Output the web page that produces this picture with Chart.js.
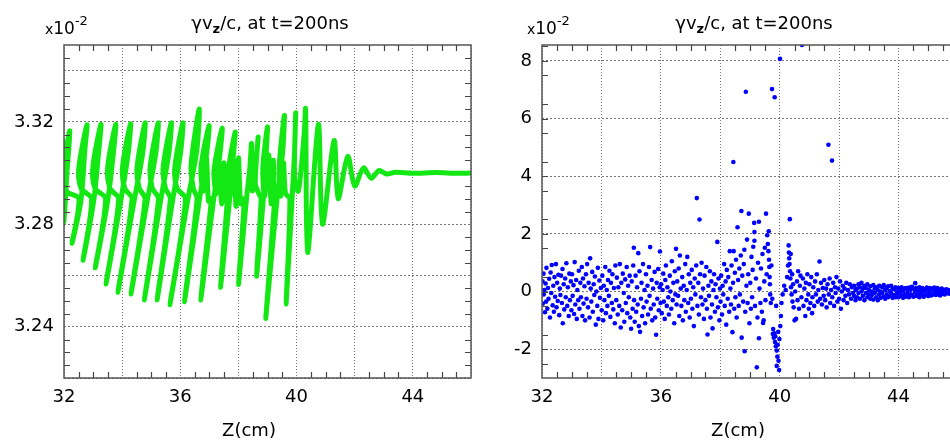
<!DOCTYPE html>
<html>
<head>
<meta charset="utf-8">
<script src="https://cdn.jsdelivr.net/npm/chart.js@4.4.0/dist/chart.umd.min.js"></script>
<style>
  html, body { margin: 0; padding: 0; background: #fff; overflow: hidden; }
  #wrap { position: relative; width: 950px; height: 441px; overflow: hidden; }
  #leftChart { position: absolute; left: 0; top: 0; }
  #rightChart { position: absolute; left: 480px; top: 0; }
</style>
</head>
<body>
<div id="wrap">
  <canvas id="leftChart" width="480" height="441"></canvas>
  <canvas id="rightChart" width="490" height="441"></canvas>
</div>
<script>
// ---- data ----
const xTickLabels = [32, 36, 40, 44];
const leftYTickLabels = [3.24, 3.28, 3.32];
const rightYTickLabels = [-2, 0, 2, 4, 6, 8];
const axisTitle = 'Z(cm)';
const multiplier = ['x', '10', '-2'];
const titleParts = ['\u03b3v', 'z', '/c, at t=200ns'];

// left panel: phase-space trace (Z, gamma*vz/c in units of 1e-2)
const greenTrace = [
  [32.00,3.312],[32.04,3.299],[32.00,3.281],[32.10,3.300],[32.20,3.3165],[32.02,3.304],[32.08,3.293],
  [32.51,3.290],[32.27,3.2726],[32.58,3.289],[32.71,3.308],[32.79,3.3188],[32.51,3.302],[32.59,3.294],
  [32.95,3.290],[32.65,3.266],[33.02,3.289],[33.19,3.308],[33.27,3.319],[32.99,3.302],[33.07,3.294],
  [33.43,3.290],[33.07,3.263],[33.50,3.289],[33.70,3.308],[33.78,3.319],[33.50,3.302],[33.58,3.294],
  [33.88,3.290],[33.44,3.2567],[33.95,3.289],[34.21,3.308],[34.29,3.3192],[34.01,3.302],[34.09,3.294],
  [34.34,3.290],[33.85,3.2535],[34.41,3.289],[34.71,3.308],[34.79,3.3196],[34.51,3.302],[34.59,3.294],
  [34.79,3.290],[34.30,3.2528],[34.86,3.289],[35.16,3.308],[35.24,3.3196],[34.96,3.302],[35.04,3.294],
  [35.25,3.290],[34.76,3.2505],[35.32,3.289],[35.61,3.308],[35.69,3.3196],[35.41,3.302],[35.49,3.294],
  [35.66,3.290],[35.20,3.2505],[35.73,3.289],[36.01,3.308],[36.09,3.3196],[35.81,3.302],[35.89,3.294],
  [36.18,3.290],[35.64,3.2486],[36.25,3.289],[36.57,3.309],[36.65,3.325],[36.37,3.303],[36.45,3.294],
  [36.58,3.290],[36.14,3.2498],[36.65,3.289],[36.91,3.308],[36.99,3.3185],[36.71,3.302],[36.79,3.293],
  [36.90,3.306],[36.97,3.289],
  [37.07,3.290],[36.70,3.2505],[37.14,3.289],[37.36,3.307],[37.44,3.3175],[37.16,3.301],[37.24,3.292],
  [37.33,3.306],[37.42,3.288],[37.50,3.304],[37.56,3.289],
  [37.62,3.290],[37.38,3.2554],[37.69,3.289],[37.82,3.306],[37.89,3.316],[37.66,3.301],[37.72,3.291],
  [37.84,3.305],[37.92,3.287],[38.00,3.306],[38.08,3.288],
  [38.20,3.290],[38.00,3.2565],[38.27,3.289],[38.40,3.303],[38.45,3.3115],[38.48,3.293],[38.63,3.308],
  [38.68,3.314],[38.58,3.296],[38.70,3.292],
  [38.78,3.290],[38.62,3.2597],[38.85,3.289],[38.95,3.307],[39.00,3.318],[38.84,3.302],[38.90,3.291],
  [39.05,3.307],[39.12,3.288],[39.20,3.305],[39.22,3.291],
  [39.25,3.290],[38.94,3.2433],[39.32,3.289],[39.52,3.308],[39.58,3.3225],[39.40,3.302],[39.46,3.291],
  [39.55,3.304],[39.62,3.292],
  [39.77,3.290],[39.64,3.2489],[39.84,3.289],[39.93,3.308],[39.97,3.3235],[39.93,3.298],[40.06,3.293],
  [40.26,3.315],[40.31,3.325],
  [40.38,3.269],[40.75,3.319],[40.89,3.280],[41.29,3.3127],[41.43,3.290],[41.76,3.3065],
  [42.00,3.295],[42.30,3.302],[42.57,3.298],[42.84,3.301],[43.10,3.2996],[43.40,3.3003],
  [44.00,3.2999],[44.80,3.3002],[45.50,3.2999],[46.00,3.3000]
];

// right panel: particle scatter (Z, value in units of 1e-2)
const blueDots = [
  [32.02,0.35],[32.03,-0.42],[32.05,0.62],[32.06,-0.1],[32.08,0.05],[32.1,-0.72],[32.12,0.28],[32.14,-0.35],
  [32.15,0.82],[32.18,-0.6],[32.2,0.12],[32.22,-0.25],[32.24,0.44],[32.27,-0.9],[32.29,0.66],[32.31,-0.05],
  [32.33,0.92],[32.36,-0.48],[32.38,0.2],[32.4,-0.7],[32.42,0.5],[32.44,-0.18],[32.47,0.95],[32.49,-0.55],
  [32.51,0.3],[32.53,-0.33],[32.55,0.58],[32.58,-0.82],[32.6,0.1],[32.62,-0.12],[32.64,0.55],[32.67,-0.4],
  [32.69,0.78],[32.7,-1.1],[32.73,0.25],[32.75,-0.62],[32.78,0.45],[32.8,-0.2],[32.82,0.98],[32.85,-0.5],
  [32.87,0.15],[32.9,-0.85],[32.92,0.62],[32.94,-0.3],[32.97,0.35],[32.99,-0.65],
  [33.01,0.6],[33.03,-0.15],[33.06,0.22],[33.08,-0.78],[33.1,1.02],[33.12,-0.45],[33.15,0.4],[33.17,-0.95],
  [33.19,0.05],[33.22,-0.3],[33.24,0.72],[33.26,-0.6],[33.29,0.3],[33.31,-0.2],[33.34,0.85],[33.36,-0.85],
  [33.38,0.45],[33.4,-0.42],[33.43,0.18],[33.45,-1.0],[33.48,0.6],
  [33.5,-0.25],[33.52,0.95],[33.55,-0.55],[33.57,0.3],[33.6,-0.9],[33.62,1.15],[33.64,0.1],[33.66,-0.35],
  [33.69,0.68],[33.71,-0.7],[33.74,0.25],[33.76,-0.12],[33.78,0.52],[33.81,-1.15],[33.83,0.0],[33.86,-0.5],
  [33.88,0.82],[33.9,-0.95],[33.93,0.38],[33.95,-0.22],[33.98,0.12],
  [34.01,-0.65],[34.03,0.55],[34.06,-1.0],[34.08,0.2],[34.1,-0.3],[34.13,0.85],[34.15,-0.75],[34.18,0.05],
  [34.2,-0.5],[34.22,0.4],[34.25,-0.15],[34.27,0.72],[34.3,-0.88],[34.32,0.3],[34.35,-0.4],[34.37,0.6],
  [34.4,-0.62],[34.42,0.12],[34.45,-1.1],[34.47,0.9],
  [34.5,-0.3],[34.52,0.48],[34.55,-0.8],[34.57,0.15],[34.6,-0.5],[34.62,0.95],[34.65,-1.25],[34.67,0.3],
  [34.7,-0.65],[34.72,0.62],[34.75,-0.05],[34.77,-1.05],[34.8,0.42],[34.82,-0.4],[34.85,0.85],[34.87,-0.75],
  [34.9,0.2],[34.92,-0.2],[34.95,0.55],[34.97,-0.9],
  [35.0,-1.29],[35.02,0.35],[35.05,-0.6],[35.07,0.9],[35.09,1.52],[35.1,-0.3],[35.12,-1.05],[35.15,0.55],
  [35.17,-0.7],[35.2,0.15],[35.22,-0.45],[35.24,1.33],[35.26,-1.2],[35.28,0.7],[35.3,-1.4],[35.33,-0.25],
  [35.35,0.3],[35.37,-0.85],[35.4,0.95],[35.42,-0.55],[35.45,0.05],[35.47,-1.1],
  [35.5,0.6],[35.52,-0.35],[35.55,0.2],[35.57,-0.8],[35.6,0.85],[35.62,-0.15],[35.64,1.54],[35.66,-0.6],
  [35.69,0.4],[35.71,-1.0],[35.74,0.1],[35.76,-0.45],[35.79,0.68],[35.81,-0.9],[35.84,-1.5],[35.86,0.3],
  [35.88,-0.25],[35.91,0.78],[35.93,-0.65],[35.96,0.15],[35.97,1.39],[35.99,-0.4],
  [36.01,0.25],[36.03,-0.75],[36.06,0.05],[36.08,0.62],[36.1,-0.35],[36.13,-0.95],[36.15,0.4],[36.17,0.9],
  [36.2,-0.5],[36.22,0.15],[36.25,-0.2],[36.27,-0.8],[36.3,0.55],[36.32,0.0],[36.35,-0.6],[36.37,1.05],
  [36.4,-0.3],[36.42,0.3],[36.45,-1.1],[36.47,0.7],[36.49,-0.1],
  [36.51,1.48],[36.53,-0.45],[36.55,0.35],[36.58,-0.15],[36.6,0.8],[36.62,-0.85],[36.64,1.25],[36.67,0.1],
  [36.69,-0.5],[36.72,0.5],[36.74,-1.0],[36.77,0.2],[36.79,-0.3],[36.82,0.95],[36.84,-0.7],[36.87,0.05],
  [36.89,1.2],[36.92,-0.4],[36.94,0.6],[36.97,-0.9],[36.99,0.3],
  [37.01,-0.25],[37.04,0.75],[37.06,-0.6],[37.09,0.15],[37.11,-1.2],[37.14,0.45],[37.16,-0.1],[37.19,0.9],
  [37.21,3.24],[37.23,-0.5],[37.26,0.3],[37.28,-0.8],[37.3,2.5],[37.32,0.6],[37.35,-0.2],[37.37,1.0],
  [37.4,-0.45],[37.42,0.1],[37.45,-0.95],[37.47,0.55],
  [37.5,-0.3],[37.53,0.85],[37.55,-0.6],[37.57,-1.49],[37.6,0.2],[37.62,-0.15],[37.65,0.7],[37.67,-0.9],
  [37.7,0.35],[37.72,-0.45],[37.74,-1.28],[37.77,0.05],[37.79,0.6],[37.82,-0.7],[37.84,0.25],[37.87,-0.2],
  [37.9,1.72],[37.92,-0.55],[37.94,0.45],[37.97,-1.0],[37.99,0.1],
  [38.01,-0.35],[38.03,0.55],[38.06,-0.8],[38.08,0.2],[38.1,-0.1],[38.13,0.95],[38.15,-0.5],[38.18,0.35],
  [38.2,-1.15],[38.22,0.75],[38.25,-0.25],[38.27,0.5],[38.3,-0.7],[38.32,1.4],[38.34,0.1],[38.36,-0.45],
  [38.38,0.9],[38.41,-1.41],[38.43,0.3],[38.44,4.49],[38.45,1.4],[38.47,-0.6],[38.49,0.65],
  [38.51,-0.2],[38.53,1.1],[38.55,-0.9],[38.58,2.23],[38.6,0.4],[38.62,-0.5],[38.64,0.8],[38.66,-0.1],
  [38.69,1.25],[38.71,2.79],[38.72,-1.6],[38.74,0.55],[38.77,-0.35],[38.79,0.95],[38.81,1.45],[38.82,-2.07],
  [38.84,-0.7],[38.86,6.93],[38.88,0.2],[38.9,1.8],[38.92,-0.4],[38.94,0.6],[38.96,2.7],[38.98,-1.1],
  [39.01,0.3],[39.03,-0.6],[39.05,1.2],[39.07,-0.2],[39.09,0.75],[39.11,1.55],[39.14,2.38],[39.15,1.76],
  [39.15,2.06],[39.17,-0.5],[39.2,0.45],[39.23,-2.63],[39.25,-0.9],[39.27,1.0],[39.3,2.42],[39.3,-1.62],
  [39.32,0.1],[39.35,-0.4],[39.37,0.8],[39.4,-0.7],[39.42,1.3],[39.44,-1.09],[39.46,-1.0],[39.48,0.35],
  [39.5,1.52],[39.52,-0.3],[39.54,2.7],[39.56,0.6],[39.58,1.95],[39.6,1.65],[39.62,1.4],[39.63,2.09],
  [39.64,1.1],[39.65,0.85],[39.66,0.5],[39.67,0.25],[39.68,-0.1],[39.7,-0.4],[39.72,0.9],[39.74,7.02],
  [39.75,-0.25],[39.77,-1.47],[39.78,-1.3],[39.8,-1.6],[39.82,-1.45],[39.83,6.74],[39.84,-1.75],[39.85,-1.55],
  [39.87,-1.9],[39.88,-0.5],[39.9,-2.58],[39.9,-2.05],[39.92,-2.26],[39.93,-1.85],[39.95,-1.4],[39.96,-2.4],
  [39.98,-2.72],[39.99,-1.65],[40.01,8.07],[40.02,-1.2],[40.04,-0.85],
  [40.06,-0.4],[40.1,-0.1],[40.15,0.2],[40.2,0.05],[40.25,0.5],[40.28,0.9],[40.3,1.6],[40.31,1.35],
  [40.32,1.15],[40.33,0.95],[40.34,2.51],[40.35,0.7],[40.36,0.45],[40.37,1.3],[40.38,0.15],[40.4,-0.1],
  [40.42,0.6],[40.43,-0.35],[40.45,0.25],[40.47,-0.55],[40.5,-1.0],[40.52,0.0],[40.55,-0.95],[40.58,0.35],
  [40.6,-0.3],[40.62,0.7],[40.65,-0.6],[40.68,0.2],[40.7,0.55],[40.73,-0.2],[40.75,8.55],[40.78,0.45],
  [40.8,-0.5],[40.83,0.1],[40.86,-0.85],[40.88,0.3],[40.9,-0.3],[40.93,0.6],[40.96,-0.1],[40.98,-0.6],
  [41.0,0.25],[41.03,-0.4],[41.06,0.5],[41.09,-0.75],[41.1,-0.2],[41.13,0.15],[41.16,-0.5],[41.19,0.35],
  [41.22,-0.1],[41.25,0.6],[41.28,-0.35],[41.3,0.05],[41.34,1.04],[41.36,-0.25],[41.39,0.3],[41.42,-0.45],
  [41.45,0.12],[41.48,-0.15],
  [41.5,0.4],[41.53,-0.3],[41.56,0.1],[41.58,-0.55],[41.61,0.25],[41.64,5.09],[41.65,-0.1],[41.68,0.45],
  [41.7,-0.4],[41.73,0.05],[41.76,4.54],[41.77,-0.2],[41.8,0.3],[41.83,-0.5],[41.86,0.15],[41.88,-0.05],
  [41.91,0.5],[41.94,-0.35],[41.97,0.1],[42.0,-0.25],[42.03,0.35],[42.06,-0.6],[42.09,0.0],[42.12,0.2],
  [42.15,-0.3],[42.18,0.1],[42.21,-0.15],[42.24,0.3],[42.27,-0.4],[42.3,0.05],[42.33,-0.1],[42.36,0.25],
  [42.4,-0.25],[42.43,0.15],[42.47,-0.05],
  [42.5,0.2],[42.5,-0.15],[42.55,-0.3],[42.55,0.05],[42.6,0.1],[42.6,-0.2],[42.65,0.25],[42.65,-0.05],
  [42.7,-0.25],[42.7,0.15],[42.75,0.0],[42.75,0.3],[42.8,-0.15],[42.8,0.1],[42.85,0.2],[42.85,-0.3],
  [42.9,-0.05],[42.9,0.12],[42.95,0.25],[42.95,-0.2],[43.0,-0.1],[43.0,0.05],[43.05,0.18],[43.05,-0.25],
  [43.1,0.0],[43.1,-0.12],[43.15,0.22],[43.15,-0.28],[43.2,-0.05],[43.2,0.1],[43.25,0.15],[43.25,-0.2],
  [43.3,-0.3],[43.3,0.05],[43.35,0.2],[43.35,-0.1],[43.4,0.0],[43.4,-0.22],[43.45,0.15],[43.45,-0.05],
  [43.5,-0.18],[43.5,0.22],[43.55,0.05],[43.55,-0.25],[43.6,0.12],[43.6,-0.1],[43.65,-0.2],[43.65,0.18],
  [43.7,0.02],[43.7,-0.15],[43.75,0.2],[43.75,-0.05],[43.8,-0.22],[43.8,0.1],[43.85,0.08],[43.85,-0.12],
  [43.9,-0.2],[43.9,0.15],[43.95,0.0],[43.95,-0.08],[44.0,0.12],[44.0,-0.2],[44.05,-0.05],[44.05,0.08],
  [44.1,0.15],[44.1,-0.15],[44.15,-0.22],[44.15,0.02],[44.2,0.1],[44.2,-0.1],[44.25,-0.18],[44.25,0.12],
  [44.3,0.05],[44.3,-0.05],[44.35,0.14],[44.35,-0.2],[44.4,-0.1],[44.4,0.06],[44.45,0.16],[44.45,-0.12],
  [44.5,0.1],[44.5,-0.18],[44.56,0.29],[44.55,-0.02],[44.6,-0.15],[44.6,0.12],[44.65,0.04],[44.65,-0.1],
  [44.7,0.15],[44.7,-0.2],[44.75,-0.05],[44.75,0.08],[44.8,0.12],[44.8,-0.15],[44.85,-0.18],[44.85,0.02],
  [44.9,0.08],[44.9,-0.1],[44.95,-0.12],[44.95,0.14],[45.0,0.02],[45.0,-0.16],[45.05,0.12],[45.05,-0.06],
  [45.1,-0.14],[45.1,0.06],[45.15,0.1],[45.15,-0.1],[45.2,-0.05],[45.2,0.14],[45.25,0.04],[45.25,-0.12],
  [45.3,0.12],[45.3,-0.04],[45.35,-0.1],[45.35,0.08],[45.4,0.02],[45.4,-0.14],[45.45,0.1],[45.45,-0.06],
  [45.5,-0.08],[45.5,0.06],[45.55,0.04],[45.55,-0.1],[45.6,-0.06],[45.6,0.08],[45.65,0.06],[45.65,-0.04],
  [45.7,-0.08],[45.7,0.02],[45.75,0.05],[45.75,-0.06],[45.8,-0.02],[45.8,0.04],[45.85,0.03],[45.85,-0.05],
  [45.9,-0.04],[45.9,0.02],[45.95,0.01],[45.95,-0.03]
];

const FONT = '"DejaVu Sans", Verdana, sans-serif';

// draws the box, inward minor ticks and the texts around each panel
const framePlugin = {
  id: 'frame',
  afterDraw(chart, args, opts) {
    const ctx = chart.ctx;
    const a = chart.chartArea;
    const xs = chart.scales.x;
    const ys = chart.scales.y;
    ctx.save();

    // minor ticks on all four sides
    ctx.strokeStyle = '#444';
    ctx.lineWidth = 1.2;
    ctx.beginPath();
    for (let i = 1; i * opts.xMinor < xs.max - xs.min - 1e-9; i++) {
      if (i % opts.xEvery === 0) continue;
      const px = Math.round(xs.getPixelForValue(xs.min + i * opts.xMinor)) + 0.5;
      ctx.moveTo(px, a.bottom); ctx.lineTo(px, a.bottom - 6);
      ctx.moveTo(px, a.top); ctx.lineTo(px, a.top + 6);
    }
    const y0 = opts.yStart;
    for (let i = 0; y0 + i * opts.yMinor <= ys.max + 1e-9; i++) {
      if (i % opts.yEvery === 0) continue;
      const py = Math.round(ys.getPixelForValue(y0 + i * opts.yMinor)) + 0.5;
      if (py < a.top + 1 || py > a.bottom - 1) continue;
      ctx.moveTo(a.left, py); ctx.lineTo(a.left + 6, py);
      ctx.moveTo(a.right, py); ctx.lineTo(a.right - 6, py);
    }
    ctx.stroke();

    // frame
    ctx.strokeStyle = '#555';
    ctx.lineWidth = 1.5;
    ctx.strokeRect(a.left, a.top, a.right - a.left, a.bottom - a.top);

    // title with subscript
    ctx.fillStyle = '#000';
    ctx.textBaseline = 'alphabetic';
    ctx.textAlign = 'left';
    ctx.font = '18px ' + FONT;
    const w1 = ctx.measureText(titleParts[0]).width;
    const w3 = ctx.measureText(titleParts[2]).width;
    ctx.font = 'bold 13px ' + FONT;
    const w2 = ctx.measureText(titleParts[1]).width;
    let tx = opts.titleX - (w1 + w2 + w3) / 2;
    ctx.font = '18px ' + FONT;
    ctx.fillText(titleParts[0], tx, 29);
    ctx.font = 'bold 13px ' + FONT;
    ctx.fillText(titleParts[1], tx + w1, 33);
    ctx.font = '18px ' + FONT;
    ctx.fillText(titleParts[2], tx + w1 + w2, 29);

    // x10^-2 multiplier
    let mx = opts.multX;
    ctx.font = '14px ' + FONT;
    ctx.fillText(multiplier[0], mx, 34);
    mx += ctx.measureText(multiplier[0]).width;
    ctx.font = '17px ' + FONT;
    ctx.fillText(multiplier[1], mx, 34);
    mx += ctx.measureText(multiplier[1]).width;
    ctx.font = '13px ' + FONT;
    ctx.fillText(multiplier[2], mx, 25);

    // axis title
    ctx.font = '18px ' + FONT;
    ctx.textAlign = 'center';
    ctx.fillText(axisTitle, opts.axisTitleX, 436);
    ctx.restore();
  }
};

function makeScales(yMin, yMax, yStep, yLabels, yFmt, yAxisWidth) {
  const tickFont = { family: FONT, size: 18 };
  return {
    x: {
      type: 'linear',
      min: 32,
      max: 46,
      afterFit: s => { s.height = 63; },
      ticks: {
        stepSize: 2,
        autoSkip: false,
        maxRotation: 0,
        includeBounds: false,
        padding: 9,
        color: '#000',
        font: tickFont,
        callback: v => xTickLabels.includes(v) ? String(v) : ''
      },
      grid: { color: '#777', lineWidth: 1, drawTicks: false },
      border: { display: false, dash: [1, 2] }
    },
    y: {
      type: 'linear',
      min: yMin,
      max: yMax,
      afterFit: s => { s.width = yAxisWidth; },
      ticks: {
        stepSize: yStep,
        autoSkip: false,
        includeBounds: false,
        padding: 10,
        color: '#000',
        font: tickFont,
        callback: v => {
          const hit = yLabels.find(l => Math.abs(l - v) < 1e-6);
          return hit === undefined ? '' : yFmt(hit);
        }
      },
      grid: { color: '#777', lineWidth: 1, drawTicks: false },
      border: { display: false, dash: [2, 2] }
    }
  };
}

const leftChart = new Chart(document.getElementById('leftChart'), {
  type: 'scatter',
  data: {
    datasets: [{
      data: greenTrace.map(p => ({ x: p[0], y: p[1] })),
      showLine: true,
      borderColor: 'rgb(20,232,20)',
      borderWidth: 5,
      borderJoinStyle: 'round',
      borderCapStyle: 'round',
      pointRadius: 0,
      tension: 0.3,
      fill: false
    }]
  },
  options: {
    responsive: false,
    animation: false,
    layout: { padding: { top: 45, right: 4, left: 0, bottom: 0 } },
    plugins: {
      legend: { display: false },
      tooltip: { enabled: false },
      frame: { xMinor: 0.5, xEvery: 4, yStart: 3.22, yMinor: 0.005, yEvery: 4, titleX: 270, multX: 45, axisTitleX: 249 }
    },
    scales: makeScales(3.22, 3.35, 0.02, leftYTickLabels, v => v.toFixed(2), 64)
  },
  plugins: [framePlugin]
});

const rightChart = new Chart(document.getElementById('rightChart'), {
  type: 'scatter',
  data: {
    datasets: [{
      data: blueDots.map(p => ({ x: p[0], y: p[1] })),
      backgroundColor: 'rgb(0,0,255)',
      borderWidth: 0,
      pointRadius: 2.3
    }]
  },
  options: {
    responsive: false,
    animation: false,
    layout: { padding: { top: 45, right: 12, left: 0, bottom: 0 } },
    plugins: {
      legend: { display: false },
      tooltip: { enabled: false },
      frame: { xMinor: 0.5, xEvery: 4, yStart: -3, yMinor: 0.5, yEvery: 4, titleX: 274, multX: 47, axisTitleX: 258 }
    },
    scales: makeScales(-3, 8.55, 2, rightYTickLabels, v => String(v), 62)
  },
  plugins: [framePlugin]
});
</script>
</body>
</html>
